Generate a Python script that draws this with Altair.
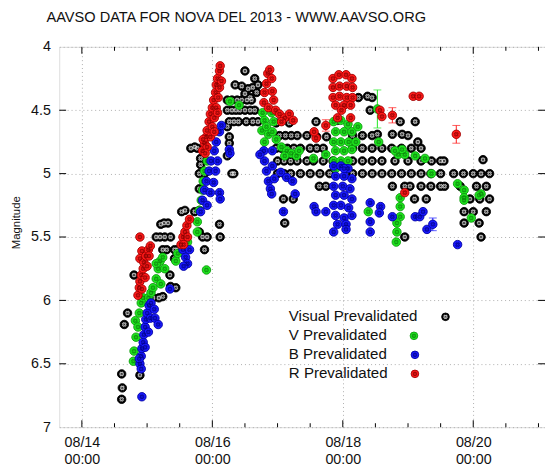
import altair as alt
import pandas as pd

TITLE = "AAVSO DATA FOR NOVA DEL 2013 - WWW.AAVSO.ORG"
SERIES = ["Visual Prevalidated", "V Prevalidated", "B Prevalidated", "R Prevalidated"]
FILL = ["#000000", "#1fe61f", "#1a1aff", "#ff1a1a"]
EDGE = ["#000000", "#0f9a0f", "#0000a0", "#a00000"]
MARK = ["#ffffff", "#0b7a0b", "#00007a", "#7a0000"]

# x: day of August 2013 (14.0 = 08/14 00:00), y: magnitude
visual = [
    (14.61, 6.58), (14.62, 6.69), (14.61, 6.78), (14.89, 6.59), (14.65, 6.19), (14.70, 6.10), (14.80, 5.80),
    (15.09, 5.98), (15.18, 5.98), (15.24, 5.97),
    (15.21, 5.40), (15.32, 5.39), (15.26, 5.39),
    (15.14, 5.50), (15.20, 5.50), (15.27, 5.50), (15.36, 5.50),
    (15.24, 5.60), (15.30, 5.60), (15.42, 5.60), (15.47, 5.60),
    (15.42, 5.67), (15.35, 5.80), (15.36, 5.89), (15.44, 5.90),
    (15.85, 5.50), (15.92, 5.50), (15.88, 5.60), (16.11, 5.40), (16.12, 5.50),
    (15.53, 5.30), (15.80, 5.29), (15.80, 5.46), (15.58, 5.29), (15.73, 5.30),
    (15.67, 4.80), (15.73, 4.79), (15.77, 4.80), (15.80, 5.00), (15.80, 5.12), (15.82, 4.88), (15.82, 4.93), (15.88, 5.00),
    (16.23, 4.63), (16.26, 4.71), (16.26, 4.76), (16.23, 4.86), (16.30, 5.00), (16.33, 5.00),
    (16.50, 4.19), (16.35, 4.30), (16.45, 4.31), (16.55, 4.33), (16.62, 4.32), (16.68, 4.36), (16.50, 4.37),
    (16.58, 4.40), (16.65, 4.25), (16.70, 4.30),
    (16.23, 4.42), (16.30, 4.42), (16.38, 4.42), (16.45, 4.42), (16.53, 4.42), (16.60, 4.42),
    (16.23, 4.50), (16.30, 4.50), (16.36, 4.50), (16.42, 4.50), (16.50, 4.50), (16.58, 4.50), (16.65, 4.50),
    (16.26, 4.59), (16.33, 4.59), (16.40, 4.59), (16.52, 4.59), (16.62, 4.59), (16.70, 4.59),
    (16.98, 4.60), (17.18, 4.60), (17.59, 4.59), (17.92, 4.58), (18.88, 4.59), (19.11, 4.59),
    (18.24, 4.40), (18.38, 4.39), (18.45, 4.40), (18.42, 4.50),
    (17.03, 4.70), (17.12, 4.70), (17.21, 4.70), (17.30, 4.70), (17.45, 4.70), (17.60, 4.71), (17.75, 4.71),
    (18.15, 4.70), (18.30, 4.70), (18.45, 4.70), (18.53, 4.69), (18.76, 4.69), (18.91, 4.69), (19.00, 4.70), (19.15, 4.75),
    (16.98, 4.80), (17.06, 4.80), (17.15, 4.80), (17.25, 4.80), (17.35, 4.80), (17.50, 4.80), (17.60, 4.80), (17.70, 4.80),
    (18.15, 4.80), (18.30, 4.80), (18.45, 4.80), (18.60, 4.80), (18.75, 4.80), (18.90, 4.80), (19.05, 4.80), (19.20, 4.80),
    (17.00, 4.90), (17.10, 4.90), (17.20, 4.90), (17.30, 4.90), (17.45, 4.90), (17.55, 4.90), (17.70, 4.90), (17.85, 4.90),
    (18.15, 4.90), (18.30, 4.90), (18.45, 4.90), (18.60, 4.90), (18.80, 4.90), (19.00, 4.90), (19.20, 4.90),
    (19.36, 4.90), (19.50, 4.90), (19.55, 4.90), (20.15, 4.89),
    (17.00, 5.00), (17.10, 5.00), (17.20, 5.00), (17.35, 5.00), (17.50, 5.00), (17.65, 5.00), (17.80, 5.00),
    (18.15, 5.00), (18.30, 5.00), (18.45, 5.00), (18.60, 5.00), (18.75, 5.00), (18.90, 5.00), (19.05, 5.00),
    (19.20, 5.00), (19.35, 5.00), (19.50, 5.00), (19.70, 5.00), (19.85, 5.00), (20.00, 5.00), (20.12, 5.00), (20.25, 5.00),
    (17.64, 5.10), (17.74, 5.10), (18.76, 5.10), (18.95, 5.10), (19.03, 5.10), (19.20, 5.10), (19.35, 5.10),
    (19.50, 5.10), (19.56, 5.10), (19.80, 5.10), (20.05, 5.10), (20.20, 5.10),
    (17.09, 5.20), (17.24, 5.20), (19.10, 5.20), (19.28, 5.20), (19.95, 5.20), (20.10, 5.20), (20.25, 5.20),
    (19.86, 5.30), (20.00, 5.30), (20.20, 5.30),
    (17.11, 5.39), (19.86, 5.39), (20.09, 5.39),
    (18.95, 5.50), (20.12, 5.50),
]

v_band = [
    (14.79, 6.48), (14.80, 6.40), (14.82, 6.16), (14.83, 6.29), (14.86, 6.21), (14.88, 6.10), (14.91, 6.02),
    (14.94, 5.98), (15.02, 5.98),
    (15.06, 5.94), (15.09, 5.90), (15.14, 5.83), (15.17, 5.75), (15.20, 5.69), (15.24, 5.66), (15.14, 5.71),
    (15.21, 5.87), (15.27, 5.75),
    (15.44, 5.69), (15.47, 5.63), (15.55, 5.58), (15.62, 5.54),
    (15.91, 5.76),
    (15.77, 5.46), (15.77, 5.38), (15.80, 5.29), (15.83, 5.21), (15.85, 5.13), (15.86, 5.06), (15.88, 4.98), (15.92, 4.90),
    (16.27, 4.43), (16.41, 4.46),
    (16.76, 4.66), (16.77, 4.52), (16.80, 4.58), (16.83, 4.63), (16.86, 4.69), (16.80, 4.75), (16.91, 4.52),
    (16.94, 4.59), (16.92, 4.67), (16.98, 4.73),
    (17.06, 4.79), (17.14, 4.82), (17.21, 4.84), (17.29, 4.86), (17.33, 4.82), (17.11, 4.86), (17.55, 4.88), (17.74, 4.85),
    (17.86, 4.59), (17.97, 4.58), (18.08, 4.61), (17.89, 4.67), (18.02, 4.67), (18.14, 4.67), (17.86, 4.75),
    (17.97, 4.75), (18.09, 4.75), (17.89, 4.82), (18.02, 4.82), (18.14, 4.81), (17.86, 4.90), (17.97, 4.90),
    (18.08, 4.90), (17.89, 4.96), (18.05, 4.96), (18.20, 4.75), (18.23, 4.63),
    (18.53, 4.49), (18.55, 4.75),
    (18.85, 4.85), (18.95, 4.85), (18.91, 4.81), (18.80, 4.82),
    (19.11, 4.86), (19.26, 4.88), (19.36, 5.00), (19.76, 5.08),
    (19.86, 5.13), (19.86, 5.19), (19.86, 5.21), (19.97, 5.35), (20.12, 5.16), (20.09, 5.17),
    (18.88, 5.19), (18.88, 5.26), (18.88, 5.34), (18.83, 5.39), (18.83, 5.46), (18.82, 5.54),
    (18.39, 5.30),
]

b_band = [
    (14.92, 6.76),
    (14.89, 6.50), (14.91, 6.44), (14.92, 6.38), (14.94, 6.33), (14.95, 6.27), (14.97, 6.21), (14.98, 6.15),
    (15.00, 6.10), (15.03, 6.04), (15.06, 6.02), (14.88, 6.46), (14.97, 6.37), (15.02, 6.25), (15.05, 6.14),
    (15.12, 6.14), (15.17, 6.19), (15.11, 6.07), (14.91, 6.54),
    (15.35, 5.91),
    (15.55, 5.60), (15.59, 5.66), (15.62, 5.71), (15.56, 5.73), (15.65, 5.60),
    (15.82, 5.30), (15.85, 5.21), (15.88, 5.13), (15.91, 5.06), (15.95, 4.98), (15.98, 4.90), (16.03, 4.82),
    (16.06, 4.75), (16.11, 4.67), (16.14, 4.62), (15.92, 5.25), (15.97, 5.15), (16.02, 5.07), (16.05, 4.98), (16.08, 4.90),
    (16.26, 4.81), (16.11, 5.15), (16.12, 5.20), (16.27, 4.84),
    (16.79, 4.82), (16.80, 4.90), (16.83, 4.98), (16.86, 5.06), (16.89, 5.12), (16.92, 4.82), (16.92, 4.94),
    (16.95, 5.04), (16.73, 4.85), (16.91, 5.16),
    (17.05, 4.99), (17.14, 5.03), (17.23, 5.06), (17.09, 5.30), (17.27, 5.16),
    (17.56, 5.26), (17.59, 5.30), (17.74, 5.30),
    (17.86, 4.94), (17.97, 4.94), (18.08, 4.96), (17.89, 5.02), (18.02, 5.02), (18.14, 5.04), (17.86, 5.10),
    (18.00, 5.10), (18.11, 5.12), (17.89, 5.17), (18.02, 5.17), (18.14, 5.20), (17.86, 5.25), (17.97, 5.25),
    (18.09, 5.27), (17.89, 5.33), (18.02, 5.35), (18.14, 5.33), (17.92, 5.40), (18.05, 5.40), (17.86, 5.46),
    (18.05, 5.44), (18.02, 4.96),
    (18.42, 5.23), (18.42, 5.38), (18.42, 5.46), (18.58, 5.26), (18.56, 5.31), (18.76, 5.34),
    (19.11, 5.34), (19.18, 5.34), (19.23, 5.30), (19.29, 5.44), (19.38, 5.40), (19.76, 5.56),
]

r_band = [
    (14.89, 5.50), (14.92, 5.61), (14.89, 5.67),
    (14.86, 5.96), (14.88, 5.90), (14.89, 5.85), (14.91, 5.80), (14.94, 5.75), (14.95, 5.70), (14.98, 5.65),
    (15.02, 5.60), (15.05, 5.57), (14.92, 5.91), (14.97, 5.82), (15.00, 5.73), (15.03, 5.65),
    (15.52, 5.56), (15.55, 5.50), (15.58, 5.46), (15.61, 5.41), (15.65, 5.36), (15.62, 5.50), (15.56, 5.56),
    (15.85, 4.82), (15.88, 4.76), (15.91, 4.71), (15.92, 4.66), (15.95, 4.59), (15.97, 4.53), (16.00, 4.48),
    (16.02, 4.42), (16.05, 4.36), (16.06, 4.30), (16.08, 4.25), (16.11, 4.19), (16.12, 4.15), (15.92, 4.79),
    (15.97, 4.71), (16.00, 4.63), (16.03, 4.56), (16.06, 4.48), (16.09, 4.40), (16.11, 4.32), (16.14, 4.27),
    (15.89, 4.84), (16.03, 4.67), (16.08, 4.52), (15.86, 4.73),
    (16.79, 4.44), (16.80, 4.36), (16.83, 4.29), (16.85, 4.21), (16.88, 4.18), (16.91, 4.25), (16.92, 4.35),
    (16.94, 4.42), (16.86, 4.48), (16.97, 4.50),
    (17.03, 4.53), (17.11, 4.56), (17.18, 4.53), (17.24, 4.58), (17.06, 4.59),
    (17.59, 4.72), (17.56, 4.67), (17.74, 4.62), (17.92, 4.56), (18.12, 4.56),
    (17.85, 4.25), (17.94, 4.22), (18.05, 4.22), (18.14, 4.25), (17.85, 4.32), (17.95, 4.31), (18.06, 4.31),
    (18.15, 4.32), (17.85, 4.40), (17.95, 4.39), (18.06, 4.40), (18.15, 4.40), (17.89, 4.46), (18.02, 4.46),
    (18.12, 4.46), (17.98, 4.50),
    (18.57, 4.50), (18.60, 4.55), (18.76, 4.54), (19.08, 4.39), (19.17, 4.39), (19.74, 4.69), (18.95, 5.15),
]

# error bars: day, magnitude, uncertainty, series index
err_bars = [
    (17.74, 4.62, 0.045, 3),
    (18.53, 4.49, 0.15, 1),
    (18.76, 4.54, 0.06, 3),
    (19.38, 5.40, 0.05, 2),
    (19.74, 4.69, 0.07, 3),
]

X_MAJOR = [14, 16, 18, 20]
X_MINOR = [14.5, 15, 15.5, 16.5, 17, 17.5, 18.5, 19, 19.5, 20.5, 21]
Y_TICKS = [4, 4.5, 5, 5.5, 6, 6.5, 7]

W, H = 493, 386
FONT = "Liberation Sans"

xs = alt.Scale(domain=[13.653, 21.10], nice=False, zero=False)
ys = alt.Scale(domain=[4, 7], reverse=True, nice=False, zero=False)

x_axis = alt.Axis(values=X_MAJOR, labelExpr="['08/' + datum.value, '00:00']", ticks=False, domain=False,
                  grid=True, gridDash=[1, 3], gridColor="#9a9a9a", gridWidth=0.8,
                  labelFont=FONT, labelFontSize=14.5, labelColor="#111", labelPadding=9,
                  labelLineHeight=17, labelBaseline="top", title=None)
y_axis = alt.Axis(values=Y_TICKS, format="~g", ticks=False, domain=False,
                  grid=True, gridDash=[1, 3], gridColor="#9a9a9a", gridWidth=0.8,
                  labelFont=FONT, labelFontSize=14.5, labelColor="#111", labelPadding=9,
                  title="Magnitude", titleFont=FONT, titleFontSize=11.5, titleFontWeight="normal",
                  titleColor="#111", titlePadding=9, titleY=178)

X = alt.X("day:Q", scale=xs, axis=x_axis)
Y = alt.Y("mag:Q", scale=ys, axis=y_axis)

layers = []

# inward tick marks
maj = pd.DataFrame({"day": X_MAJOR})
mnr = pd.DataFrame({"day": X_MINOR})
yt = pd.DataFrame({"mag": Y_TICKS[1:-1]})
for df, ln in ((maj, 7), (mnr, 4)):
    layers.append(alt.Chart(df).mark_rule(color="black", strokeWidth=1).encode(x=X, y=alt.value(H), y2=alt.value(H - ln)))
    layers.append(alt.Chart(df).mark_rule(color="black", strokeWidth=1).encode(x=X, y=alt.value(0), y2=alt.value(ln)))
layers.append(alt.Chart(yt).mark_rule(color="black", strokeWidth=1).encode(y=Y, x=alt.value(0), x2=alt.value(7)))
layers.append(alt.Chart(yt).mark_rule(color="black", strokeWidth=1).encode(y=Y, x=alt.value(W), x2=alt.value(W - 7)))

series_data = [visual, v_band, b_band, r_band]
for i, data in enumerate(series_data):
    eb = pd.DataFrame([(d, m - e, m + e) for d, m, e, s in err_bars if s == i], columns=["day", "lo", "hi"])
    if len(eb):
        layers.append(alt.Chart(eb).mark_rule(color=FILL[i], strokeWidth=1).encode(
            x=X, y=alt.Y("lo:Q", scale=ys, axis=y_axis), y2="hi:Q"))
        for col in ("lo", "hi"):
            layers.append(alt.Chart(eb).mark_tick(color=FILL[i], orient="horizontal", size=8, thickness=1).encode(
                x=X, y=alt.Y(f"{col}:Q", scale=ys, axis=y_axis)))
    df = pd.DataFrame(data, columns=["day", "mag"])
    layers.append(alt.Chart(df).mark_circle(size=74, fill=FILL[i], stroke=EDGE[i], strokeWidth=0.9, opacity=1).encode(x=X, y=Y))
    layers.append(alt.Chart(df).mark_point(shape="cross", size=14, angle=45, filled=False, stroke=MARK[i],
                                           strokeWidth=1, opacity=0.7).encode(x=X, y=Y))

# in-plot key
LEG_TX, LEG_TY, LEG_DY = 233, 273, 19.3
LEG_SX = [392, 360, 361, 361]
one = pd.DataFrame({"k": [0]})
for i, name in enumerate(SERIES):
    yy = LEG_TY + LEG_DY * i
    layers.append(alt.Chart(one).mark_text(text=name, align="left", baseline="middle", font=FONT,
                                           fontSize=15.3, color="#111").encode(x=alt.value(LEG_TX), y=alt.value(yy)))
    layers.append(alt.Chart(one).mark_circle(size=60, fill=FILL[i], stroke=EDGE[i], strokeWidth=0.9, opacity=1).encode(
        x=alt.value(LEG_SX[i]), y=alt.value(yy + 1)))
    layers.append(alt.Chart(one).mark_point(shape="cross", size=12, angle=45, filled=False, stroke=MARK[i],
                                            strokeWidth=1, opacity=0.7).encode(x=alt.value(LEG_SX[i]), y=alt.value(yy + 1)))

chart = alt.layer(*layers).properties(
    width=W, height=H,
    title=alt.TitleParams(TITLE, anchor="start", frame="group", dx=-13, offset=2, baseline="alphabetic",
                          font=FONT, fontSize=14.8, fontWeight="normal", color="#111"),
    autosize=alt.AutoSizeParams(type="none"),
    padding={"left": 52, "top": 36, "right": 0, "bottom": 37},
).configure_view(stroke="black", strokeWidth=1).configure(background="white")

chart.save("out.html", embed_options={"renderer": "svg", "actions": False})
